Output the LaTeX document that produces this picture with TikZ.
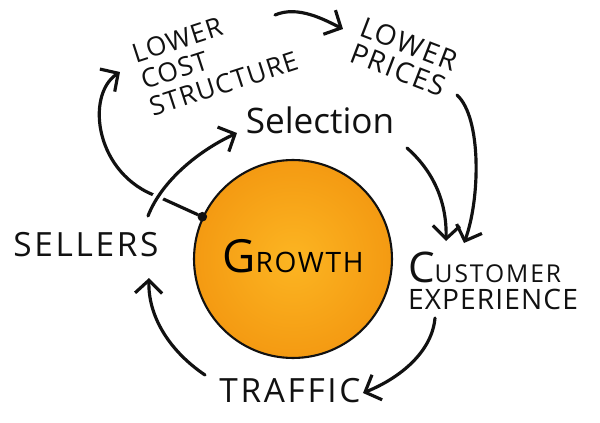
\documentclass[tikz,border=0pt]{standalone}
\usepackage{fontspec}
\setmainfont{Open Sans}
\usepackage{tikz}
\usetikzlibrary{calc,arrows.meta}
\definecolor{ink}{HTML}{111111}
\definecolor{sunlight}{HTML}{FCB522}
\definecolor{sundeep}{HTML}{F49A12}
\tikzset{
  flow/.style={draw=ink, line width=1.8pt, line cap=round,
    -{Straight Barb[length=2.6mm,width=5.4mm]}},
  lab/.style={text=ink, inner sep=1pt},
  big/.style={font=\fontsize{19}{22}\selectfont\addfontfeature{LetterSpace=8}},
  small/.style={font=\fontsize{15}{16}\selectfont\addfontfeature{LetterSpace=4}},
  ball/.style={circle, draw=ink, line width=1.2pt, inner color=sunlight, outer color=sundeep},
  hub/.style={circle, fill=ink, inner sep=0pt, minimum size=5.5pt},
}

\begin{document}
\begin{tikzpicture}[x=0.02cm, y=-0.02cm]
  \useasboundingbox[fill=white] (0,0) rectangle (600,423);

  \node[ball, minimum size=3.96cm] (growth) at (293,259)
    {\raisebox{3pt}{\fontsize{26}{26}\selectfont G\fontsize{16}{16}\selectfont\addfontfeature{LetterSpace=6}ROWTH}};
  \node[hub] (hub) at (growth.155) {};

  \node[lab, big] (sellers) at (86,245) {SELLERS};
  \node[lab, big] (traffic) at (290,391) {TRAFFIC};
  \node[lab, font=\fontsize{20}{20}\selectfont] (selection) at (320,120) {Selection};
  \node[lab, align=left] (customer) at (493,281)
    {{\fontsize{24}{24}\selectfont C}{\fontsize{14}{14}\selectfont\addfontfeature{LetterSpace=8}USTOMER}\\[3pt]
     {\fontsize{16}{16}\selectfont\addfontfeature{LetterSpace=4}EXPERIENCE}};
  \node[lab, small, align=left, rotate=18] (cost) at (215,57) {LOWER\\COST\\STRUCTURE};
  \node[lab, font=\fontsize{16}{16}\selectfont\addfontfeature{LetterSpace=6}, align=left, rotate=-21] (prices) at (404,57)
    {LOWER\\PRICES};

  \draw[flow] (hub) -- ($(hub)+(-44,-20)$) .. controls (95,175) and (85,95) .. ($(cost)+(-95,15)$);
  \draw[flow, preaction={draw=white, line width=6pt, -}] ($(sellers)+(62,-29)$)
    .. controls (162,180) and (200,150) .. ($(selection)+(-83,13)$);
  \draw[flow] ($(cost)+(60,-42)$) .. controls (298,5) and (325,20) .. ($(prices)+(-61,-28)$);
  \draw[flow] ($(selection)+(87,28)$) .. controls (432,170) and (447,200) .. ($(customer)+(-47,-40)$);
  \draw[flow] ($(prices)+(53,38)$) .. controls (482,118) and (480,200) .. ($(customer)+(-29,-38)$);
  \draw[flow] ($(customer)+(-58,37)$) .. controls (432,352) and (400,378) .. ($(traffic)+(73,2)$);
  \draw[flow] ($(traffic)+(-85,-16)$) .. controls (168,350) and (148,315) .. ($(sellers)+(63,33)$);
\end{tikzpicture}
\end{document}
